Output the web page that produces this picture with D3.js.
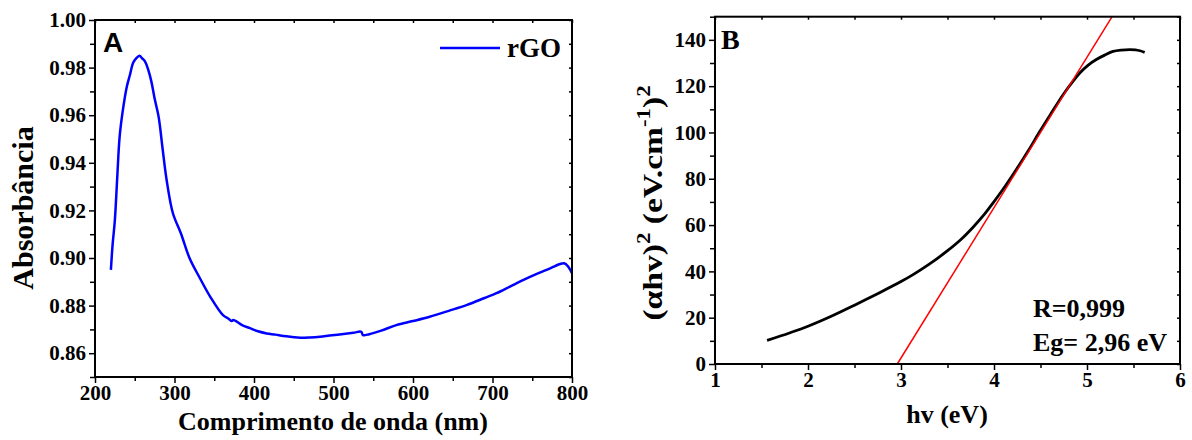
<!DOCTYPE html>
<html>
<head>
<meta charset="utf-8">
<script src="https://cdn.jsdelivr.net/npm/d3@7"></script>
<style>
	body { margin: 0; background: #fff; }
	text { font-family: "Liberation Serif", "Times New Roman", serif; font-weight: bold; fill: #000; }
</style>
</head>
<body>
<div id="chart"></div>
<script>
// panel A: absorbance spectrum of rGO
const wavelength = [220, 222, 225, 228, 231, 235, 240, 244, 248, 252, 256, 259, 263, 267, 271, 275, 280, 285, 290, 298, 308, 319, 332, 345, 361, 368, 372, 374, 385, 395, 405, 416, 427, 437, 448, 458, 470, 483, 495, 510, 525, 535, 537, 545, 560, 579, 600, 621, 645, 668, 690, 705, 722, 739, 755, 768, 778, 785, 790, 795, 800]
const absorbance = [0.895, 0.905, 0.916, 0.934, 0.951, 0.962, 0.972, 0.977, 0.982, 0.984, 0.985, 0.984, 0.9825, 0.979, 0.974, 0.967, 0.9594, 0.946, 0.933, 0.9188, 0.9104, 0.8999, 0.8915, 0.8837, 0.876, 0.8745, 0.8735, 0.874, 0.8718, 0.8705, 0.8692, 0.8683, 0.8678, 0.8672, 0.8668, 0.8665, 0.8666, 0.8669, 0.8674, 0.868, 0.8686, 0.869, 0.8676, 0.868, 0.8695, 0.8718, 0.8735, 0.8753, 0.8778, 0.8803, 0.8832, 0.8852, 0.888, 0.8908, 0.8932, 0.895, 0.8965, 0.8975, 0.8978, 0.8965, 0.8936]
const xTicksA = [200, 300, 400, 500, 600, 700, 800]
const yTicksA = [0.86, 0.88, 0.90, 0.92, 0.94, 0.96, 0.98, 1.00]

// panel B: Tauc plot
const hv = [1.56, 1.8, 2.0, 2.25, 2.5, 2.77, 3.0, 3.13, 3.3, 3.49, 3.65, 3.78, 3.9, 3.99, 4.12, 4.24, 4.37, 4.49, 4.62, 4.745, 4.84, 4.925, 5.01, 5.1, 5.19, 5.28, 5.37, 5.46, 5.52, 5.57, 5.62]
const alphaHv2 = [10.2, 13.4, 16.3, 20.6, 25.4, 30.8, 35.6, 38.6, 43.0, 48.6, 54.0, 59.3, 64.8, 69.6, 76.8, 84.0, 92.2, 100.3, 108.6, 116.4, 121.6, 125.8, 129.0, 131.5, 133.4, 135.0, 135.6, 135.8, 135.7, 135.3, 134.6]
const fitHv = [2.96, 5.27]
const fitY = [0, 150]
const xTicksB = [1, 2, 3, 4, 5, 6]
const yTicksB = [0, 20, 40, 60, 80, 100, 120, 140]

const svgWidth = 1192
const svgHeight = 440

let svg = d3.select("#chart")
	.append("svg")
	.attr("width", svgWidth)
	.attr("height", svgHeight)

// draws a framed panel with outward ticks on left/bottom, inward small ticks on top/right
function drawFrame(g, x, y, xMajor, xMinor, yMajor, yMinor, yFormat) {
	let [x0, x1] = x.range()
	let [y0, y1] = y.range()

	g.append("g")
		.attr("transform", `translate(0, ${y0})`)
		.call(d3.axisBottom(x).tickValues(xMinor).tickSize(4).tickFormat(""))
		.call(a => a.select(".domain").remove())
	g.append("g")
		.attr("transform", `translate(0, ${y0})`)
		.call(d3.axisBottom(x).tickValues(xMajor).tickSize(6).tickPadding(2).tickFormat(d3.format("d")))
		.call(a => a.select(".domain").remove())
		.selectAll("text").attr("font-size", 21)

	g.append("g")
		.attr("transform", `translate(${x0}, 0)`)
		.call(d3.axisLeft(y).tickValues(yMinor).tickSize(5).tickFormat(""))
		.call(a => a.select(".domain").remove())
	g.append("g")
		.attr("transform", `translate(${x0}, 0)`)
		.call(d3.axisLeft(y).tickValues(yMajor).tickSize(6).tickPadding(3).tickFormat(yFormat))
		.call(a => a.select(".domain").remove())
		.selectAll("text").attr("font-size", 21)

	// mirrored ticks on top and right
	g.append("g")
		.attr("transform", `translate(0, ${y1})`)
		.call(d3.axisBottom(x).tickValues(xMajor.concat(xMinor)).tickSize(3).tickFormat(""))
		.call(a => a.select(".domain").remove())
	g.append("g")
		.attr("transform", `translate(${x1}, 0)`)
		.call(d3.axisLeft(y).tickValues(yMajor.concat(yMinor)).tickSize(3).tickFormat(""))
		.call(a => a.select(".domain").remove())

	g.selectAll(".tick line").attr("stroke", "#000").attr("stroke-width", 1.5)

	g.append("rect")
		.attr("x", x0)
		.attr("y", y1)
		.attr("width", x1 - x0)
		.attr("height", y0 - y1)
		.attr("fill", "none")
		.attr("stroke", "#000")
		.attr("stroke-width", 2)
}

// ---------------- Panel A ----------------
let xA = d3.scaleLinear().domain([200, 800]).range([95, 572])
let yA = d3.scaleLinear().domain([0.85, 1.00]).range([377, 20])
let gA = svg.append("g")

let dataA = wavelength.map((w, i) => ({ x: w, y: absorbance[i] }))
gA.append("path")
	.datum(dataA)
	.attr("fill", "none")
	.attr("stroke", "#0000ff")
	.attr("stroke-width", 2.5)
	.attr("stroke-linejoin", "round")
	.attr("d", d3.line().x(d => xA(d.x)).y(d => yA(d.y)).curve(d3.curveCatmullRom))

drawFrame(gA, xA, yA, xTicksA, [250, 350, 450, 550, 650, 750],
	yTicksA, d3.range(0.85, 1.0, 0.02).map(v => +v.toFixed(2)), d3.format(".2f"))

gA.append("text")
	.attr("x", 103)
	.attr("y", 52)
	.style("font-family", "'Liberation Sans', Arial, sans-serif")
	.attr("font-size", 28)
	.text("A")

// legend
gA.append("line")
	.attr("x1", 440).attr("x2", 500)
	.attr("y1", 48).attr("y2", 48)
	.attr("stroke", "#0000ff")
	.attr("stroke-width", 2.5)
gA.append("text")
	.attr("x", 507)
	.attr("y", 57)
	.attr("font-size", 27)
	.text("rGO")

gA.append("text")
	.attr("x", 333)
	.attr("y", 430)
	.attr("text-anchor", "middle")
	.attr("font-size", 26)
	.text("Comprimento de onda (nm)")

gA.append("text")
	.attr("transform", "translate(33, 208) rotate(-90)")
	.attr("text-anchor", "middle")
	.attr("font-size", 30)
	.text("Absorbância")

// ---------------- Panel B ----------------
let xB = d3.scaleLinear().domain([1, 6]).range([715, 1180])
let yB = d3.scaleLinear().domain([0, 150]).range([364, 16.7])
let gB = svg.append("g")

let dataB = hv.map((h, i) => ({ x: h, y: alphaHv2[i] }))
gB.append("path")
	.datum(dataB)
	.attr("fill", "none")
	.attr("stroke", "#000")
	.attr("stroke-width", 2.8)
	.attr("d", d3.line().x(d => xB(d.x)).y(d => yB(d.y)).curve(d3.curveCatmullRom))

let fit = fitHv.map((h, i) => ({ x: h, y: fitY[i] }))
gB.append("path")
	.datum(fit)
	.attr("fill", "none")
	.attr("stroke", "#ff0000")
	.attr("stroke-width", 1.5)
	.attr("d", d3.line().x(d => xB(d.x)).y(d => yB(d.y)))

drawFrame(gB, xB, yB, xTicksB, [1.5, 2.5, 3.5, 4.5, 5.5],
	yTicksB, [10, 30, 50, 70, 90, 110, 130, 150], d3.format("d"))

gB.append("text")
	.attr("x", 721)
	.attr("y", 49)
	.attr("font-size", 28)
	.text("B")

gB.append("text")
	.attr("x", 1033)
	.attr("y", 317)
	.attr("font-size", 26)
	.text("R=0,999")
gB.append("text")
	.attr("x", 1033)
	.attr("y", 351)
	.attr("font-size", 26)
	.text("Eg= 2,96 eV")

gB.append("text")
	.attr("x", 947)
	.attr("y", 423)
	.attr("text-anchor", "middle")
	.attr("font-size", 26)
	.text("hv (eV)")

let yLabB = gB.append("text")
	.attr("transform", "translate(662, 203) rotate(-90) scale(1.2, 1)")
	.attr("text-anchor", "middle")
	.attr("font-size", 28)
yLabB.append("tspan").text("(αhv)")
yLabB.append("tspan").attr("dy", -12).attr("font-size", 19).text("2")
yLabB.append("tspan").attr("dy", 12).text(" (eV.cm")
yLabB.append("tspan").attr("dy", -12).attr("font-size", 19).text("-1")
yLabB.append("tspan").attr("dy", 12).text(")")
yLabB.append("tspan").attr("dy", -12).attr("font-size", 19).text("2")
</script>
</body>
</html>
